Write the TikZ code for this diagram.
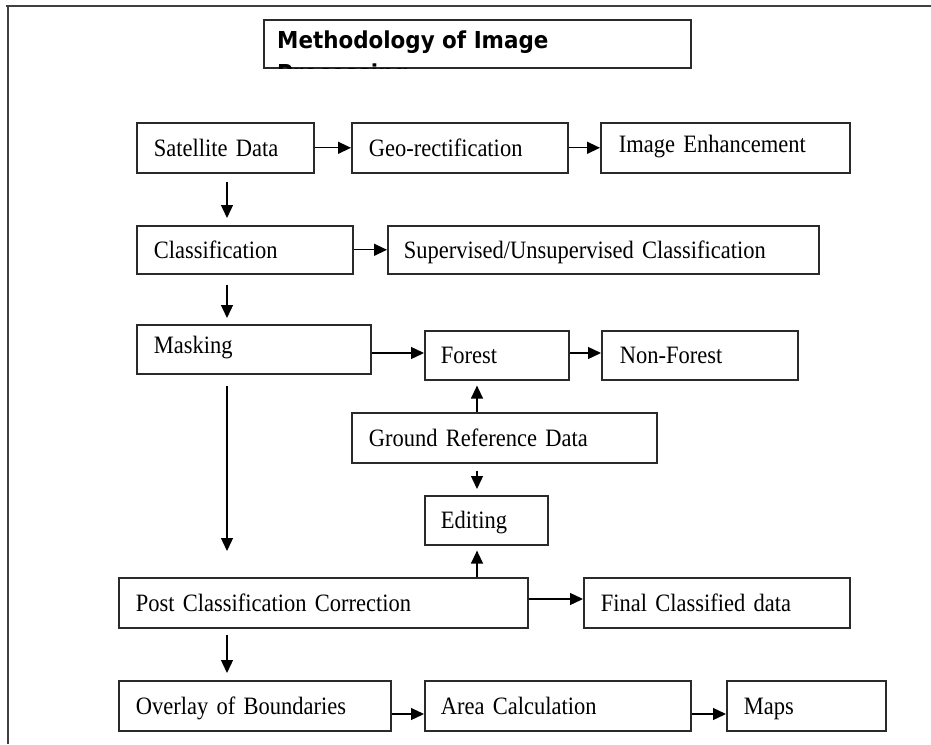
\documentclass[tikz,border=0pt]{standalone}
\usepackage{fontspec}
\setmainfont{Liberation Serif}[FakeStretch=0.9]
\newfontfamily\titlefont{DejaVu Sans}[FakeStretch=0.92]
\usetikzlibrary{arrows.meta,calc}
\definecolor{edge}{HTML}{2a2a2a}
\newcommand{\boxfont}{\fontsize{25}{28}\selectfont\spaceskip=4.5pt plus 1pt minus 1pt\relax}
\tikzset{
  box/.style={draw=edge, line width=1.6pt, anchor=north west, inner xsep=17pt, inner ysep=0pt,
    align=left, font=\boxfont, text height=16.5pt, text depth=0pt},
  up/.style={text depth=8pt},
  arr/.style={line width=1.3pt, draw=black, -{Triangle[length=13pt,width=12pt]}},
  frameline/.style={line width=2pt, draw=black!75},
  ttl/.style={anchor=base west, inner sep=0pt, font=\titlefont\bfseries\fontsize{23.3}{28}\selectfont},
}
\begin{document}
\begin{tikzpicture}[x=1pt,y=-1pt]
\useasboundingbox (0,0) rectangle (931,744);
% frame
\draw[frameline] (6,6) -- (931,6);
\draw[frameline] (8,6) -- (8,744);
% title
\node[draw=edge, line width=1.6pt, anchor=north west, minimum width=427pt, minimum height=48pt, inner sep=0pt] (title) at (263,19) {};
\begin{scope}
\clip (title.north west) rectangle (title.south east);
\node[ttl] (titletext) at ($(title.north west)+(14,29)$) {Methodology of Image};
\node[ttl] (titletext2) at ($(title.north west)+(14,62)$) {Processing};
\end{scope}
% boxes
\node[box, minimum width=177pt, text width=143pt, minimum height=50pt] (sat) at (136,122) {Satellite Data};
\node[box, minimum width=216pt, text width=182pt, minimum height=50pt] (geo) at (351,122) {Geo-rectification};
\node[box, up, minimum width=249pt, text width=213pt, minimum height=50pt, inner xsep=18pt] (img) at (600,122) {Image Enhancement};
\node[box, minimum width=216pt, text width=182pt, minimum height=48pt] (cls) at (136,225) {Classification};
\node[box, minimum width=431pt, text width=399pt, minimum height=48pt, inner xsep=16pt] (sup) at (387,225) {Supervised/Unsupervised Classification};
\node[box, up, minimum width=234pt, text width=200pt, minimum height=49pt] (mask) at (136,324) {Masking};
\node[box, minimum width=144pt, text width=112pt, minimum height=49pt, inner xsep=16pt] (forest) at (424,330) {Forest};
\node[box, minimum width=196pt, text width=160pt, minimum height=49pt, inner xsep=18pt] (nonf) at (601,330) {Non-Forest};
\node[box, minimum width=305pt, text width=271pt, minimum height=50pt] (grd) at (351,412) {Ground Reference Data};
\node[box, minimum width=123pt, text width=91pt, minimum height=49pt, inner xsep=16pt] (edit) at (424,495) {Editing};
\node[box, minimum width=409pt, text width=375pt, minimum height=50pt] (pcc) at (118,577) {Post Classification Correction};
\node[box, minimum width=266pt, text width=232pt, minimum height=50pt] (final) at (583,577) {Final Classified data};
\node[box, minimum width=272pt, text width=238pt, minimum height=50pt] (over) at (118,680) {Overlay of Boundaries};
\node[box, minimum width=266pt, text width=234pt, minimum height=50pt, inner xsep=16pt] (area) at (424,680) {Area Calculation};
\node[box, minimum width=159pt, text width=125pt, minimum height=50pt] (maps) at (726,680) {Maps};
% helper coordinates
\coordinate (vx) at (227,0);
\coordinate (gx) at (477,0);
\coordinate (hm) at (0,353);
\coordinate (hp) at (0,599);
\coordinate (ho) at (0,714);
% horizontal arrows
\draw[arr] (sat.east) -- (geo.west);
\draw[arr] (geo.east) -- (img.west);
\draw[arr] (cls.east) -- (sup.west);
\draw[arr] (mask.east |- hm) -- (forest.west |- hm);
\draw[arr] (forest.east |- hm) -- (nonf.west |- hm);
\draw[arr] (pcc.east |- hp) -- (final.west |- hp);
\draw[arr] (over.east |- ho) -- (area.west |- ho);
\draw[arr] (area.east |- ho) -- (maps.west |- ho);
% vertical arrows
\draw[arr, shorten <=8pt, shorten >=7pt] (sat.south -| vx) -- (cls.north -| vx);
\draw[arr, shorten <=10pt, shorten >=6pt] (cls.south -| vx) -- (mask.north -| vx);
\draw[arr, shorten <=11pt, shorten >=26pt] (mask.south -| vx) -- (pcc.north -| vx);
\draw[arr, shorten <=6pt, shorten >=7pt] (pcc.south -| vx) -- (over.north -| vx);
\draw[arr, shorten >=5pt] (grd.north -| gx) -- (forest.south -| gx);
\draw[arr, shorten <=7pt, shorten >=6pt] (grd.south -| gx) -- (edit.north -| gx);
\draw[arr, shorten >=5pt] (pcc.north -| gx) -- (edit.south -| gx);
\end{tikzpicture}
\end{document}
